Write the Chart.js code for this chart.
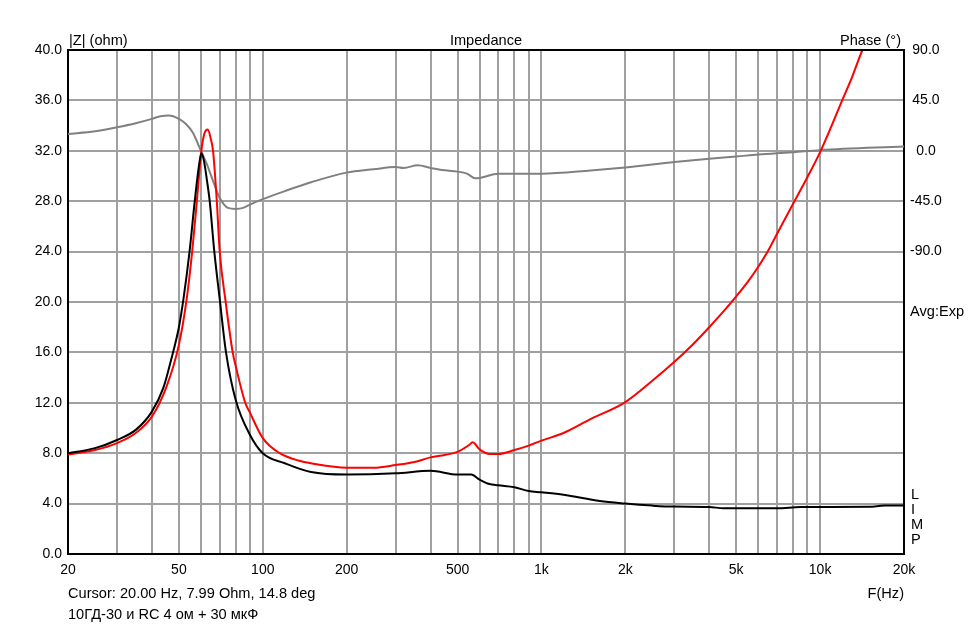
<!DOCTYPE html>
<html>
<head>
<meta charset="utf-8">
<script src="https://cdn.jsdelivr.net/npm/chart.js@4.4.1/dist/chart.umd.min.js"></script>
<style>
  html, body { margin: 0; padding: 0; background: #fff; }
  canvas { display: block; }
</style>
</head>
<body>
<canvas id="impChart" width="972" height="626"></canvas>
<script>
// Impedance plot: two |Z| curves (left axis) and one phase curve (right axis)

// black |Z| curve
const blackFreq = [20, 25, 30, 35, 40, 44, 47, 50, 51.9, 54.6, 57, 59, 60.2, 61.5, 63, 64.5, 67, 70, 73.8, 80, 90, 100, 120, 149, 200, 300, 400, 500, 560, 600, 650, 700, 800, 900, 1000, 1200, 1620, 2000, 2500, 3000, 4000, 4500, 7000, 8500, 15000, 17000, 20000];
const blackOhm = [7.99, 8.4, 9.05, 9.85, 11.3, 13.2, 15.5, 18.0, 20.2, 24.0, 28.0, 30.8, 31.8, 31.2, 29.7, 28.0, 24.0, 20.3, 16.0, 12.2, 9.45, 8.0, 7.2, 6.5, 6.3, 6.4, 6.6, 6.3, 6.3, 5.9, 5.55, 5.45, 5.3, 5.0, 4.9, 4.7, 4.2, 4.0, 3.84, 3.76, 3.73, 3.63, 3.63, 3.73, 3.75, 3.84, 3.84];

// red |Z| curve (with RC)
const redFreq = [20, 25, 30, 35, 40, 45, 50, 53.3, 55.8, 58, 60.2, 61.8, 63.5, 65, 66.3, 68.4, 70, 73.6, 78, 80, 86.5, 90, 100, 115, 135, 149, 200, 250, 300, 350, 400, 450, 500, 550, 566, 600, 650, 700, 800, 900, 1000, 1200, 1500, 2000, 2500, 3000, 3500, 4000, 4500, 5000, 5500, 6000, 6500, 7000, 8000, 9000, 10000, 11000, 12000, 13000, 14000, 14200];
const redOhm = [7.9, 8.25, 8.8, 9.6, 10.9, 13.2, 16.6, 20.2, 24.0, 28.0, 32.0, 33.4, 33.7, 33.0, 32.0, 28.0, 24.1, 20.0, 16.0, 14.9, 12.0, 11.2, 9.2, 8.0, 7.4, 7.2, 6.85, 6.85, 7.06, 7.3, 7.67, 7.86, 8.1, 8.65, 8.86, 8.3, 7.94, 7.94, 8.25, 8.6, 9.0, 9.6, 10.7, 12.06, 13.75, 15.25, 16.65, 18.0, 19.25, 20.45, 21.6, 22.8, 24.05, 25.4, 27.8, 29.9, 31.9, 34.0, 36.0, 37.8, 39.7, 40.0];

// gray phase curve (degrees)
const phaseFreq = [20, 25, 30, 35, 40, 43, 46, 50, 53, 56, 60, 63, 65, 67, 70, 75, 80, 85, 90, 100, 120, 150, 200, 250, 300, 320, 360, 400, 440, 500, 540, 580, 600, 700, 1000, 1500, 2000, 3000, 4000, 5000, 6000, 7000, 8000, 10000, 20000];
const phaseDeg = [15.0, 17.4, 21.0, 24.6, 28.5, 30.9, 31.5, 28.5, 24.0, 16.5, 0, -12, -21, -30, -42, -51, -51.9, -51, -48, -43.2, -36, -27.9, -19.5, -16.5, -14.4, -15.3, -13.0, -15.3, -17.1, -18.6, -20.4, -24.6, -24.3, -20.4, -20.4, -17.6, -14.9, -10.1, -7.1, -5.1, -3.3, -2.1, -1.2, 0.6, 3.9];

// x grid lines and which of them carry a label
const freqGrid = [20, 30, 40, 50, 60, 70, 80, 90, 100, 200, 300, 400, 500, 600, 700, 800, 900, 1000, 2000, 3000, 4000, 5000, 6000, 7000, 8000, 9000, 10000, 20000];
const freqLabels = { 20: '20', 50: '50', 100: '100', 200: '200', 500: '500', 1000: '1k', 2000: '2k', 5000: '5k', 10000: '10k', 20000: '20k' };
const phaseLabelled = [90, 45, 0, -45, -90];

const GRID = '#a0a0a0';
const FONT = "'Liberation Sans', Arial, sans-serif";

Chart.defaults.font.family = FONT;
Chart.defaults.font.size = 14;
Chart.defaults.color = '#000';

function toPoints(xs, ys) {
    return xs.map((x, i) => ({ x: x, y: ys[i] }));
}

const textPlugin = {
    id: 'impText',
    afterDraw(chart) {
        const ctx = chart.ctx;
        const a = chart.chartArea;
        ctx.save();
        // top frame line
        ctx.strokeStyle = '#000';
        ctx.lineWidth = 2;
        ctx.beginPath();
        ctx.moveTo(a.left - 1, a.top);
        ctx.lineTo(a.right + 1, a.top);
        ctx.stroke();

        ctx.fillStyle = '#000';
        ctx.font = '14.6px ' + FONT;
        ctx.textBaseline = 'alphabetic';
        ctx.textAlign = 'left';
        ctx.fillText('|Z| (ohm)', 69, 45);
        ctx.textAlign = 'center';
        ctx.fillText('Impedance', (a.left + a.right) / 2, 45);
        ctx.textAlign = 'right';
        ctx.fillText('Phase (°)', 901, 45);

        ctx.textAlign = 'left';
        ctx.fillText('Cursor: 20.00 Hz, 7.99 Ohm, 14.8 deg', 68, 598);
        ctx.fillText('10ГД-30 и RC 4 ом + 30 мкФ', 68, 619);
        ctx.textAlign = 'right';
        ctx.fillText('F(Hz)', 904, 598);

        ctx.textAlign = 'left';
        ctx.fillText('Avg:Exp', 910, 316);
        ['L', 'I', 'M', 'P'].forEach((ch, i) => ctx.fillText(ch, 911, 499 + i * 15));
        ctx.restore();
    }
};

const ctx = document.getElementById('impChart').getContext('2d');

new Chart(ctx, {
    type: 'line',
    data: {
        datasets: [
            {
                label: '|Z|',
                data: toPoints(blackFreq, blackOhm),
                borderColor: '#000000',
                borderWidth: 2,
                pointRadius: 0,
                cubicInterpolationMode: 'monotone',
                yAxisID: 'y'
            },
            {
                label: '|Z| RC',
                data: toPoints(redFreq, redOhm),
                borderColor: '#ff0000',
                borderWidth: 2,
                pointRadius: 0,
                cubicInterpolationMode: 'monotone',
                yAxisID: 'y'
            },
            {
                label: 'Phase',
                data: toPoints(phaseFreq, phaseDeg),
                borderColor: '#808080',
                borderWidth: 2,
                pointRadius: 0,
                cubicInterpolationMode: 'monotone',
                yAxisID: 'y1'
            }
        ]
    },
    options: {
        responsive: false,
        animation: false,
        layout: { padding: { top: 50, left: 0, right: 0, bottom: 0 } },
        plugins: {
            legend: { display: false },
            tooltip: { enabled: false }
        },
        scales: {
            x: {
                type: 'logarithmic',
                min: 20,
                max: 20000,
                afterBuildTicks: (scale) => {
                    scale.ticks = freqGrid.map(v => ({ value: v }));
                },
                afterFit: (scale) => { scale.height = 72; },
                ticks: {
                    autoSkip: false,
                    maxRotation: 0,
                    padding: 8,
                    callback: (value) => freqLabels[value] || ''
                },
                grid: { color: GRID, lineWidth: 2, drawTicks: false },
                border: { color: '#000', width: 2 }
            },
            y: {
                position: 'left',
                min: 0,
                max: 40,
                afterFit: (scale) => { scale.width = 68; },
                ticks: {
                    stepSize: 4,
                    padding: 6,
                    callback: (value) => value.toFixed(1)
                },
                grid: { color: GRID, lineWidth: 2, drawTicks: false },
                border: { color: '#000', width: 2 }
            },
            y1: {
                position: 'right',
                min: -360,
                max: 90,
                afterFit: (scale) => { scale.width = 68; },
                ticks: {
                    stepSize: 45,
                    padding: 6,
                    crossAlign: 'center',
                    callback: (value) => phaseLabelled.includes(value) ? value.toFixed(1) : ''
                },
                grid: { display: false, drawTicks: false },
                border: { color: '#000', width: 2 }
            }
        }
    },
    plugins: [textPlugin]
});
</script>
</body>
</html>
